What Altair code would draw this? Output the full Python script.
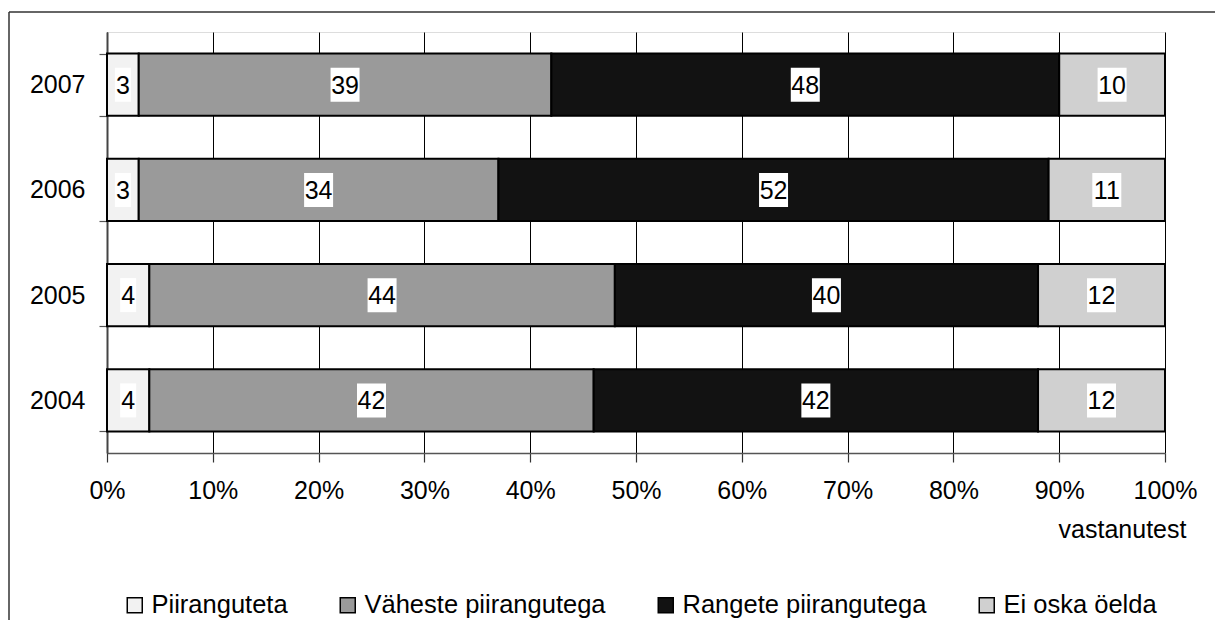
import altair as alt
import pandas as pd

years = ["2007", "2006", "2005", "2004"]
categories = ["Piiranguteta", "Väheste piirangutega", "Rangete piirangutega", "Ei oska öelda"]
piiranguteta = [3, 3, 4, 4]
vaheste = [39, 34, 44, 42]
rangete = [48, 52, 40, 42]
ei_oska = [10, 11, 12, 12]
x_ticks = [0, 10, 20, 30, 40, 50, 60, 70, 80, 90, 100]
colors = ["#f2f2f2", "#9a9a9a", "#121212", "#d0d0d0"]

FONT = "Liberation Sans"
FS = 25

series = [piiranguteta, vaheste, rangete, ei_oska]
rows = []
for i, yr in enumerate(years):
    cum = 0
    for j, cat in enumerate(categories):
        v = series[j][i]
        rows.append(dict(year=yr, cat=cat, order=j, value=v, start=cum, end=cum + v,
                         mid=cum + v / 2, label=str(v)))
        cum += v
df = pd.DataFrame(rows)

y_enc = alt.Y("year:N", sort=years,
              scale=alt.Scale(paddingInner=0.41, paddingOuter=0.205),
              axis=alt.Axis(title=None, tickBand="extent", tickSize=8, tickColor="#555",
                            tickWidth=1.2, domainColor="#444", domainWidth=2,
                            labelFont=FONT, labelFontSize=FS, labelColor="black",
                            labelPadding=14, grid=False))

x_scale = alt.Scale(domain=[0, 100], nice=False, zero=True)

base = alt.Chart(df)

bars = base.mark_bar(stroke="black", strokeWidth=2).encode(
    x=alt.X("start:Q", scale=x_scale,
            axis=alt.Axis(values=x_ticks, labelExpr="datum.value + '%'",
                          title="vastanutest", titleFont=FONT, titleFontSize=FS,
                          titleFontWeight="normal", titleColor="black",
                          titleX=1015, titleY=76, titleAlign="center",
                          titleBaseline="middle", titleAngle=0,
                          tickSize=9, tickColor="#333", tickWidth=1.2,
                          domainColor="#555", domainWidth=1.5,
                          labelFont=FONT, labelFontSize=FS, labelColor="black",
                          labelPadding=16, labelFlush=False,
                          grid=True, gridColor="black", gridWidth=1, gridOpacity=1)),
    x2="end:Q",
    y=y_enc,
    color=alt.Color("cat:N", sort=categories,
                    scale=alt.Scale(domain=categories, range=colors),
                    legend=alt.Legend(orient="none", legendX=15, legendY=560,
                                      direction="horizontal", columns=4, title=None,
                                      symbolType="square", symbolSize=225,
                                      symbolStrokeColor="black", symbolStrokeWidth=1.5,
                                      labelFont=FONT, labelFontSize=25.5, labelColor="black",
                                      labelOffset=4, columnPadding=47, padding=0,
                                      labelLimit=0)),
    order=alt.Order("order:Q"),
)

box_small = base.transform_filter("datum.value < 10").mark_bar(
    color="white", size=34, xOffset=-8, x2Offset=8).encode(
    x=alt.X("mid:Q", scale=x_scale), x2="mid:Q", y=alt.Y("year:N", sort=years))

box_big = base.transform_filter("datum.value >= 10").mark_bar(
    color="white", size=34, xOffset=-14.5, x2Offset=14.5).encode(
    x=alt.X("mid:Q", scale=x_scale), x2="mid:Q", y=alt.Y("year:N", sort=years))

texts = base.mark_text(font=FONT, fontSize=FS, color="black", align="center",
                       baseline="middle", dy=1).encode(
    x=alt.X("mid:Q", scale=x_scale), y=alt.Y("year:N", sort=years), text="label:N")

frame_data = alt.Data(values=[{"a": 1}])
frame_left = alt.Chart(frame_data).mark_rule(color="#333", strokeWidth=1.5).encode(
    x=alt.value(-98), y=alt.value(-20), y2=alt.value(590))
frame_top = alt.Chart(frame_data).mark_rule(color="#333", strokeWidth=1.5).encode(
    x=alt.value(-98), x2=alt.value(1110), y=alt.value(-20))

chart = alt.layer(bars, box_small, box_big, texts, frame_left, frame_top).properties(
    width=1058, height=421,
    padding={"left": 99, "top": 24, "right": 50, "bottom": 167},
    autosize="none",
).configure_view(stroke="#808080", strokeWidth=1.5).configure(font=FONT)

chart.save("out.html", embed_options={"renderer": "svg", "actions": False})
